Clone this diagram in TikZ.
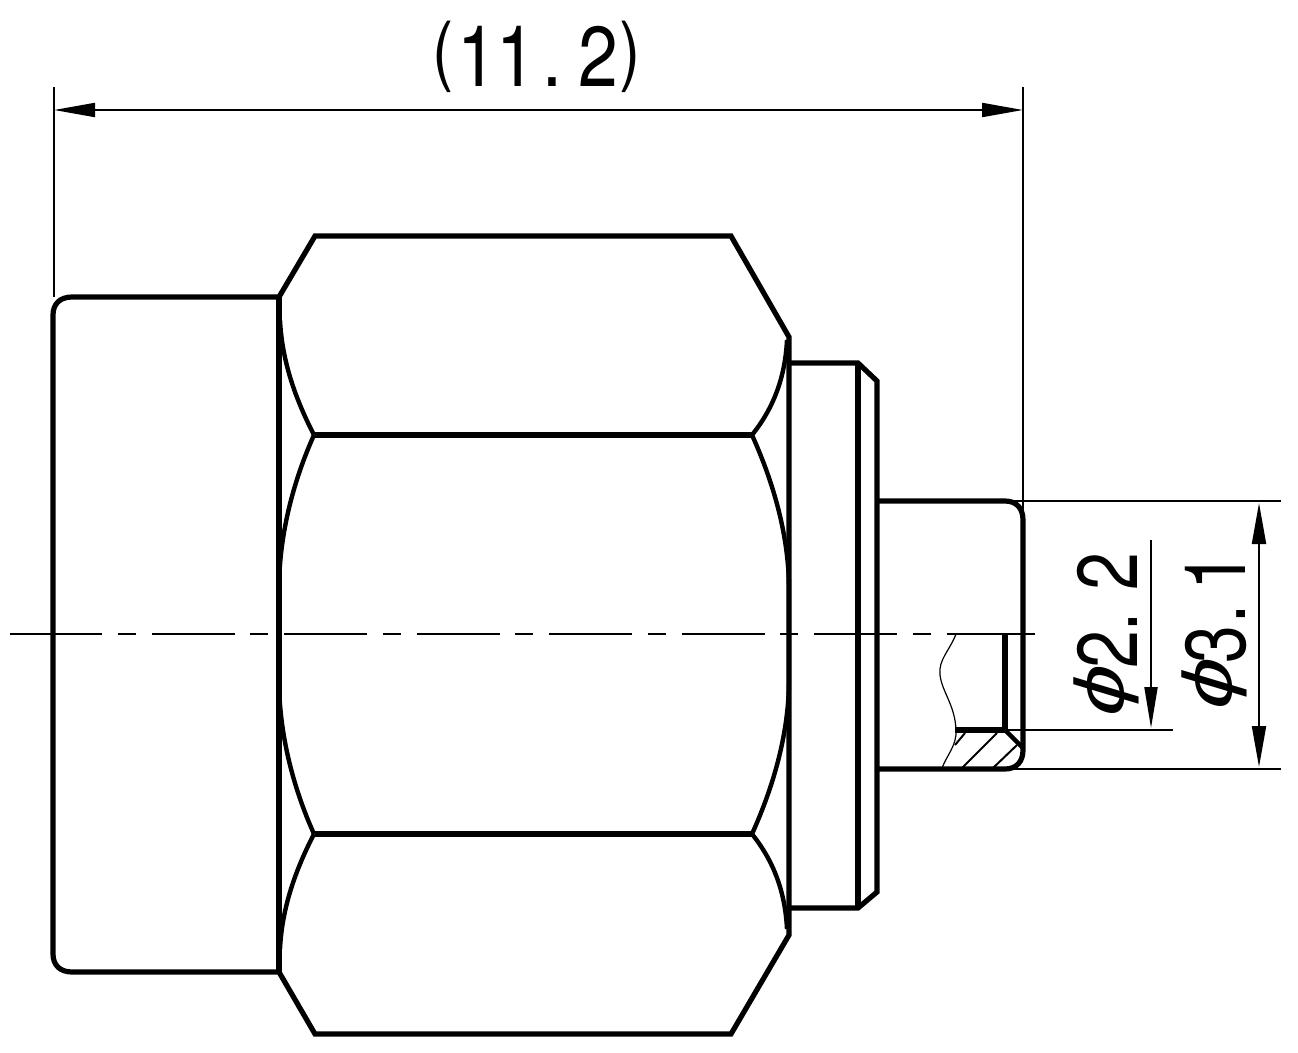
\documentclass[tikz,border=0pt]{standalone}
\usepackage{fontspec}
\setmainfont{TeX Gyre Heros}
\newfontfamily\dimfont[FakeStretch=0.84]{TeX Gyre Heros}
\newfontfamily\rotfont[FakeStretch=0.8]{TeX Gyre Heros}
\newfontfamily\phifont[FakeStretch=1.3,FakeSlant=0.3]{Liberation Sans}
\newcommand{\dimphi}{{\phifont\fontsize{70}{70}\selectfont\raisebox{13pt}{ϕ}}}
\newcommand{\dimparen}[1]{{\fontsize{76}{76}\selectfont\raisebox{10pt}{#1}}}
\usetikzlibrary{arrows.meta}
\tikzset{
  heavy/.style={line width=5.2pt,line join=miter,line cap=butt},
  medium/.style={line width=4.4pt,line cap=butt},
  thin line/.style={line width=2pt},
  hair/.style={line width=1.2pt},
  dimline/.style={line width=2pt,{Triangle[length=41pt,width=14pt]}-{Triangle[length=41pt,width=14pt]}},
  dimlabel/.style={inner sep=0pt,anchor=base,font=\dimfont\fontsize{85}{85}\selectfont},
  rotlabel/.style={inner sep=0pt,anchor=base west,rotate=90,font=\rotfont\fontsize{85}{85}\selectfont},
  centre/.style={line width=2pt,dash pattern=on 83pt off 15.5pt on 18pt off 16pt}
}
\begin{document}
\begin{tikzpicture}[x=1pt,y=-1pt]
\useasboundingbox (0,0) rectangle (1298,1052);
% cap
\draw[heavy] (279,297) -- (72,297) .. controls (60,297) and (53,304) .. (53,315)
  -- (53,954) .. controls (53,965) and (60,972) .. (72,972) -- (279,972);
\draw[heavy] (279,295) -- (279,974);
% hexagon outline
\draw[heavy] (279,297) -- (315,236) -- (731,236) -- (789,337) -- (789,935) -- (731,1034) -- (315,1034) -- (279,972);
\draw[heavy] (315,435) -- (752,435);
\draw[heavy] (315,834) -- (752,834);
% hexagon arcs
\draw[medium] (280,320) .. controls (282,362) and (296,400) .. (314,435);
\draw[medium] (280,949) .. controls (282,907) and (296,869) .. (314,834);
\draw[medium] (787,340) .. controls (785,380) and (772,410) .. (752,435);
\draw[medium] (787,929) .. controls (785,889) and (772,859) .. (752,834);
\draw[medium] (314,435) .. controls (296,475) and (279,530) .. (279,590) -- (279,679) .. controls (279,739) and (296,794) .. (314,834);
\draw[medium] (752,435) .. controls (770,475) and (789,530) .. (789,590) -- (789,679) .. controls (789,739) and (770,794) .. (752,834);
% flange
\draw[heavy] (789,363) -- (858,363) -- (877,381) -- (877,892) -- (858,908) -- (789,908);
\draw[heavy] (858,363) -- (858,908);
% tip
\draw[heavy] (877,501) -- (1005,501) .. controls (1017,501) and (1023,509) .. (1023,520)
  -- (1023,750) .. controls (1023,761) and (1017,769) .. (1005,769) -- (877,769);
\draw[heavy] (1005,634) -- (1005,732);
\draw[heavy] (955,730) -- (1005,730);
\draw[medium] (1005,730) -- (1023,748);
% break line and hatching
\draw[hair] (956,634) .. controls (950,650) and (938,660) .. (940,675) .. controls (942,692) and (955,705) .. (956,730) .. controls (957,745) and (947,755) .. (942,768);
\draw[thin line] (962,768) -- (997,733);
\draw[thin line] (993,768) -- (1017,745);
\draw[thin line] (955,745) -- (965,733);
% centre line
\draw[centre] (19,634) -- (1025,634);
\draw[thin line] (10,634) -- (19,634);
\draw[thin line] (1025,634) -- (1035,634);
% extension lines
\draw[thin line] (54,87) -- (54,297);
\draw[thin line] (1023,87) -- (1023,520);
\draw[thin line] (1005,501) -- (1281,501);
\draw[thin line] (1005,769) -- (1281,769);
\draw[thin line] (1005,730) -- (1173,730);
% dimensions
\coordinate (la) at (54,110);
\coordinate (lb) at (1023,110);
\draw[dimline] (la) -- (lb);
\coordinate (oa) at (1259,503);
\coordinate (ob) at (1259,767);
\draw[dimline] (oa) -- (ob);
\coordinate (ia) at (1151,540);
\coordinate (ib) at (1151,728);
\draw[line width=2pt,-{Triangle[length=41pt,width=13pt]}] (ia) -- (ib);
% labels
\node[dimlabel] (lenlabel) at (537,86) {\dimparen{(}\hspace{3pt}1\hspace{0pt}1\hspace{6pt}.\hspace{16pt}2\hspace{2pt}\dimparen{)}};
\node[rotlabel] (innerlabel) at (1137,722) {\dimphi\hspace{2pt}2.\hspace{22pt}2};
\node[rotlabel] (outerlabel) at (1245,715) {\dimphi\hspace{0pt}3\hspace{3pt}.\hspace{14pt}1};
\end{tikzpicture}
\end{document}
